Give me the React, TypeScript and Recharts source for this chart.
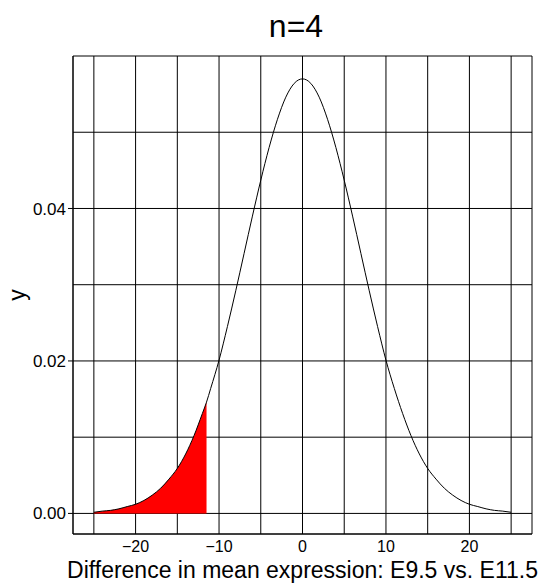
import { ComposedChart, Line, Area, XAxis, YAxis, CartesianGrid } from "recharts";

const xs = [
  -25, -24, -23, -22, -21, -20, -19, -18, -17, -16, -15, -14, -13, -12, -11.5, -11, -10, -9, -8, -7, -6, -5, -4, -3, -2,
  -1, 0, 1, 2, 3, 4, 5, 6, 7, 8, 9, 10, 11, 12, 13, 14, 15, 16, 17, 18, 19, 20, 21, 22, 23, 24, 25,
];
const ys = [
  0.00015, 0.0003, 0.0004, 0.0006, 0.0009, 0.0012, 0.0017, 0.0024, 0.0033, 0.0045, 0.0059, 0.0078, 0.0102, 0.0131,
  0.0146, 0.0164, 0.0201, 0.0245, 0.0292, 0.0341, 0.039, 0.0437, 0.048, 0.0517, 0.0546, 0.0564, 0.057, 0.0564, 0.0546,
  0.0517, 0.048, 0.0437, 0.039, 0.0341, 0.0292, 0.0245, 0.0201, 0.0164, 0.0131, 0.0102, 0.0078, 0.0059, 0.0045, 0.0033,
  0.0024, 0.0017, 0.0012, 0.0009, 0.0006, 0.0004, 0.0003, 0.00015,
];
const shadeEnd = -11.5;

const gridX = [-25, -20, -15, -10, -5, 0, 5, 10, 15, 20, 25];
const xLabels = [-20, -10, 0, 10, 20];
const gridY = [0, 0.01, 0.02, 0.03, 0.04, 0.05];
const yLabels = [0, 0.02, 0.04];

const data = xs.map((x, i) => ({ x, y: ys[i], shade: x <= shadeEnd ? ys[i] : null }));

const font = '"Liberation Sans", Arial, sans-serif';
const xDomain = [-27.5, 27.5];
const yDomain = [-0.0027, 0.06];

const YTick = (props: any) => {
  const { x, y, payload } = props;
  if (!yLabels.includes(payload.value)) return <g />;
  return (
    <g>
      <line x1={x + 2} x2={x + 7} y1={y} y2={y} stroke="#000" />
      <text x={x} y={y} dy="0.355em" textAnchor="end" fontSize={17} fontFamily={font} fill="#000">
        {payload.value.toFixed(2)}
      </text>
    </g>
  );
};

export default function App() {
  return (
    <div style={{ position: "absolute", left: 0, top: 0, width: 546, height: 584, background: "#fff" }}>
      <ComposedChart width={546} height={584} data={data} margin={{ top: 56, right: 14, bottom: 20, left: 0 }}>
        <CartesianGrid stroke="#000" strokeWidth={1} />
        <XAxis
          dataKey="x"
          type="number"
          domain={xDomain}
          ticks={gridX}
          interval={0}
          height={30}
          tickLine={false}
          tickSize={0}
          tickMargin={7}
          axisLine={{ stroke: "#000" }}
          tick={{ fontSize: 16, fontFamily: font, fill: "#000" }}
          tickFormatter={(v: number) => (xLabels.includes(v) ? String(v).replace("-", "\u2212") : "")}
        />
        <XAxis xAxisId="top" orientation="top" type="number" domain={xDomain} height={0} tick={false} tickLine={false} axisLine={{ stroke: "#000" }} />
        <YAxis
          type="number"
          domain={yDomain}
          ticks={gridY}
          interval={0}
          width={73}
          tickSize={5}
          tickMargin={2}
          tickLine={false}
          axisLine={{ stroke: "#000" }}
          tick={YTick}
        />
        <YAxis yAxisId="right" orientation="right" type="number" domain={yDomain} width={0} tick={false} tickLine={false} axisLine={{ stroke: "#000" }} />
        <Area
          dataKey="shade"
          type="monotone"
          baseValue={0}
          fill="#ff0000"
          fillOpacity={1}
          stroke="none"
          isAnimationActive={false}
        />
        <Line dataKey="y" type="monotone" stroke="#000" strokeWidth={1} dot={false} isAnimationActive={false} />
      </ComposedChart>
      <svg width={546} height={584} style={{ position: "absolute", left: 0, top: 0, pointerEvents: "none" }}>
        <text x={296} y={37} textAnchor="middle" fontSize={32} fontFamily={font} fill="#000">
          n=4
        </text>
        <text x={302.5} y={578} textAnchor="middle" fontSize={23} fontFamily={font} fill="#000">
          Difference in mean expression: E9.5 vs. E11.5
        </text>
        <text x={25} y={295} textAnchor="middle" fontSize={23} fontFamily={font} fill="#000" transform="rotate(-90 25 295)">
          y
        </text>
      </svg>
    </div>
  );
}
